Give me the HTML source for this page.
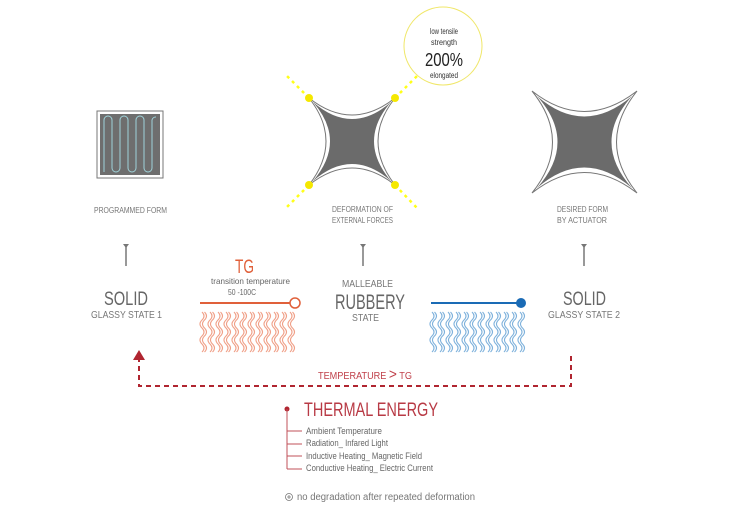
<!DOCTYPE html>
<html><head><meta charset="utf-8"><style>
html,body{margin:0;padding:0;background:#fff;width:730px;height:516px;overflow:hidden}
svg{display:block}
text{font-family:"Liberation Sans Narrow","Liberation Sans",sans-serif}
</style></head><body>
<svg width="730" height="516" viewBox="0 0 730 516" xmlns="http://www.w3.org/2000/svg">
<defs>
<path id="wv" d="M0 0 q4 4 0 8 q-4 4 0 8 q4 4 0 8 q-4 4 0 8 q4 4 0 8" fill="none" stroke-width="1.1"/>
<g id="wave2"><use href="#wv"/><use href="#wv" x="2.5"/></g>
</defs>

<rect x="97" y="111" width="66" height="67" fill="#fff" stroke="#777" stroke-width="1"/>
<rect x="100" y="114" width="60" height="61" fill="#6e6e6e"/>
<path d="M104 172 V120 a4 4 0 0 1 8 0 V168 a4 4 0 0 0 8 0 V120 a4 4 0 0 1 8 0 V168 a4 4 0 0 0 8 0 V120 a4 4 0 0 1 8 0 V168 a4 4 0 0 0 8 0 V120 a4 4 0 0 1 4 -3" fill="none" stroke="#9fd3da" stroke-width="1"/>
<text x="94" y="213" font-size="8" fill="#777" textLength="73" lengthAdjust="spacingAndGlyphs">PROGRAMMED FORM</text>

<g fill="#777" stroke="#777">
<line x1="126" y1="246" x2="126" y2="266" stroke-width="1.5"/><path d="M123 244h6l-3 4z" stroke="none"/>
<line x1="363" y1="246" x2="363" y2="266" stroke-width="1.5"/><path d="M360 244h6l-3 4z" stroke="none"/>
<line x1="584" y1="246" x2="584" y2="266" stroke-width="1.5"/><path d="M581 244h6l-3 4z" stroke="none"/>
</g>

<text x="104" y="305" font-size="19" fill="#666" textLength="44" lengthAdjust="spacingAndGlyphs">SOLID</text>
<text x="91" y="318" font-size="10" fill="#777" textLength="71" lengthAdjust="spacingAndGlyphs">GLASSY STATE 1</text>

<g stroke="#ff0" stroke-width="2.5" stroke-dasharray="3 4" fill="none" opacity="0.9">
<line x1="309" y1="98" x2="285" y2="74"/><line x1="395" y1="98" x2="418" y2="75"/>
<line x1="309" y1="185" x2="285" y2="209"/><line x1="395" y1="185" x2="418" y2="209"/>
</g>
<path d="M309 98 Q352 132 395 98 Q361 141 395 185 Q352 151 309 185 Q343 141 309 98Z" fill="none" stroke="#777" stroke-width="1"/>
<path d="M313 102 Q352 136 391 102 Q357 141 391 181 Q352 147 313 181 Q347 141 313 102Z" fill="#6b6b6b"/>
<g fill="#f5e800"><circle cx="309" cy="98" r="4"/><circle cx="395" cy="98" r="4"/><circle cx="309" cy="185" r="4"/><circle cx="395" cy="185" r="4"/></g>
<circle cx="443" cy="46" r="39" fill="#fff" stroke="#f0e76a" stroke-width="1"/>
<text x="444" y="34" font-size="8" fill="#333" text-anchor="middle" textLength="28" lengthAdjust="spacingAndGlyphs">low tensile</text>
<text x="444" y="45" font-size="8" fill="#333" text-anchor="middle" textLength="26" lengthAdjust="spacingAndGlyphs">strength</text>
<text x="425" y="66" font-size="18" fill="#222" textLength="38" lengthAdjust="spacingAndGlyphs">200%</text>
<text x="444" y="78" font-size="8" fill="#333" text-anchor="middle" textLength="28" lengthAdjust="spacingAndGlyphs">elongated</text>
<text x="332" y="212" font-size="8" fill="#777" textLength="61" lengthAdjust="spacingAndGlyphs">DEFORMATION OF</text>
<text x="332" y="223" font-size="8" fill="#777" textLength="61" lengthAdjust="spacingAndGlyphs">EXTERNAL FORCES</text>

<text x="342" y="287" font-size="10" fill="#777" textLength="51" lengthAdjust="spacingAndGlyphs">MALLEABLE</text>
<text x="335" y="309" font-size="21" fill="#666" textLength="70" lengthAdjust="spacingAndGlyphs">RUBBERY</text>
<text x="352" y="321" font-size="10" fill="#777" textLength="27" lengthAdjust="spacingAndGlyphs">STATE</text>

<text x="235" y="273" font-size="19" fill="#e0603a" textLength="19" lengthAdjust="spacingAndGlyphs">TG</text>
<text x="211" y="284" font-size="8.5" fill="#666" textLength="79" lengthAdjust="spacingAndGlyphs">transition temperature</text>
<text x="228" y="295" font-size="8.5" fill="#666" textLength="28" lengthAdjust="spacingAndGlyphs">50 -100C</text>
<line x1="200" y1="303" x2="290" y2="303" stroke="#e0603a" stroke-width="2"/>
<circle cx="295" cy="303" r="5" fill="#fff" stroke="#e0603a" stroke-width="1.5"/>
<g stroke="#f0a088" transform="translate(202,312)">
<use href="#wave2"/><use href="#wave2" x="8"/><use href="#wave2" x="16"/><use href="#wave2" x="24"/><use href="#wave2" x="32"/><use href="#wave2" x="40"/><use href="#wave2" x="48"/><use href="#wave2" x="56"/><use href="#wave2" x="64"/><use href="#wave2" x="72"/><use href="#wave2" x="80"/><use href="#wave2" x="88"/>
</g>

<line x1="431" y1="303" x2="518" y2="303" stroke="#1a6bb5" stroke-width="2"/>
<circle cx="521" cy="303" r="5" fill="#1a6bb5"/>
<g stroke="#7fb2dc" transform="translate(432,312)">
<use href="#wave2"/><use href="#wave2" x="8"/><use href="#wave2" x="16"/><use href="#wave2" x="24"/><use href="#wave2" x="32"/><use href="#wave2" x="40"/><use href="#wave2" x="48"/><use href="#wave2" x="56"/><use href="#wave2" x="64"/><use href="#wave2" x="72"/><use href="#wave2" x="80"/><use href="#wave2" x="88"/>
</g>

<path d="M532 91 Q584 132 637 91 Q596 142 637 193 Q584 152 532 193 Q573 142 532 91Z" fill="none" stroke="#777" stroke-width="1"/>
<path d="M537 96 Q584 137 632 96 Q591 142 632 188 Q584 147 537 188 Q578 142 537 96Z" fill="#6b6b6b"/>
<text x="557" y="212" font-size="8" fill="#777" textLength="51" lengthAdjust="spacingAndGlyphs">DESIRED FORM</text>
<text x="557" y="223" font-size="8" fill="#777" textLength="50" lengthAdjust="spacingAndGlyphs">BY ACTUATOR</text>
<text x="563" y="305" font-size="19" fill="#666" textLength="43" lengthAdjust="spacingAndGlyphs">SOLID</text>
<text x="548" y="318" font-size="10" fill="#777" textLength="72" lengthAdjust="spacingAndGlyphs">GLASSY STATE 2</text>

<path d="M571 356 V386 H139 V359" fill="none" stroke="#b02530" stroke-width="2" stroke-dasharray="5 4"/>
<path d="M133 360 L139 350 L145 360Z" fill="#b02530"/>
<text x="318" y="379" font-size="10" fill="#c0404a" textLength="94" lengthAdjust="spacingAndGlyphs">TEMPERATURE <tspan font-size="15">&gt;</tspan> TG</text>

<circle cx="287" cy="409" r="2.5" fill="#b02530"/>
<text x="304" y="416" font-size="19" fill="#b83a45" textLength="134" lengthAdjust="spacingAndGlyphs">THERMAL ENERGY</text>
<path d="M287 409 V469 M287 431 H302 M287 444 H302 M287 456 H302 M287 469 H302" fill="none" stroke="#c0505a" stroke-width="1"/>
<g font-size="9" fill="#666">
<text x="306" y="434" textLength="76" lengthAdjust="spacingAndGlyphs">Ambient Temperature</text>
<text x="306" y="446" textLength="82" lengthAdjust="spacingAndGlyphs">Radiation_ Infared Light</text>
<text x="306" y="459" textLength="116" lengthAdjust="spacingAndGlyphs">Inductive Heating_ Magnetic Field</text>
<text x="306" y="471" textLength="127" lengthAdjust="spacingAndGlyphs">Conductive Heating_ Electric Current</text>
</g>
<circle cx="289" cy="497" r="3.5" fill="none" stroke="#777" stroke-width="0.8"/>
<path d="M287 497h4M289 495v4" stroke="#777" stroke-width="0.8"/>
<text x="297" y="500" font-size="10" fill="#777" textLength="178" lengthAdjust="spacingAndGlyphs">no degradation after repeated deformation</text>
</svg>
</body></html>
